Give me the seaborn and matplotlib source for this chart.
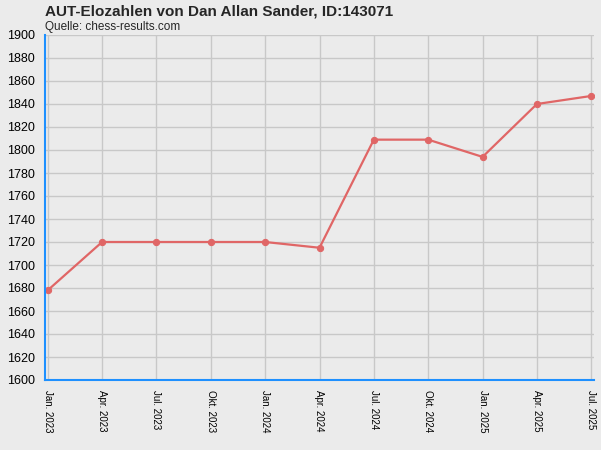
import matplotlib
matplotlib.use("Agg")
import matplotlib.pyplot as plt
import seaborn as sns
import pandas as pd

labels = ["Jan. 2023","Apr. 2023","Jul. 2023","Okt. 2023","Jan. 2024","Apr. 2024",
          "Jul. 2024","Okt. 2024","Jan. 2025","Apr. 2025","Jul. 2025"]
elo = [1678,1720,1720,1720,1720,1715,1809,1809,1794,1840,1847]

df = pd.DataFrame({"x": range(len(labels)), "elo": elo})
sns.set_style("white")
plt.rcParams['font.family'] = ['Liberation Sans', 'DejaVu Sans']

fig = plt.figure(figsize=(6.01, 4.5), dpi=100, facecolor="#ebebeb")
ax = fig.add_axes([45/601, 70/450, 549/601, 345/450])
ax.set_facecolor("#ebebeb")
sns.lineplot(data=df, x="x", y="elo", ax=ax, color="#e06666", lw=1.6,
             marker="o", markersize=4.5, markeredgecolor="#e06666")
ax.set_ylim(1600, 1900)
ax.set_xlim(-0.05, 10.05)
ax.set_yticks(range(1600, 1901, 20))
ax.set_xticks(range(len(labels)))
ax.set_xticklabels(labels, rotation=270, fontsize=7, color="black")
ax.tick_params(axis="y", labelsize=9, labelcolor="black", color="#1e90ff", length=4)
ax.tick_params(axis="x", color="#1e90ff", length=4)
ax.grid(True, color="#c8c8c8", lw=1)
for s in ["top", "right"]:
    ax.spines[s].set_visible(False)
for s in ["left", "bottom"]:
    ax.spines[s].set_color("#1e90ff")
    ax.spines[s].set_linewidth(1.5)
ax.set_xlabel("")
ax.set_ylabel("")
fig.text(45/601, 1 - 11/450, "AUT-Elozahlen von Dan Allan Sander, ID:143071",
         fontsize=11, fontweight="bold", va="center")
fig.text(45/601, 1 - 27/450, "Quelle: chess-results.com", fontsize=8.5, va="center")
fig.savefig("out.png", dpi=100, facecolor="#ebebeb")
